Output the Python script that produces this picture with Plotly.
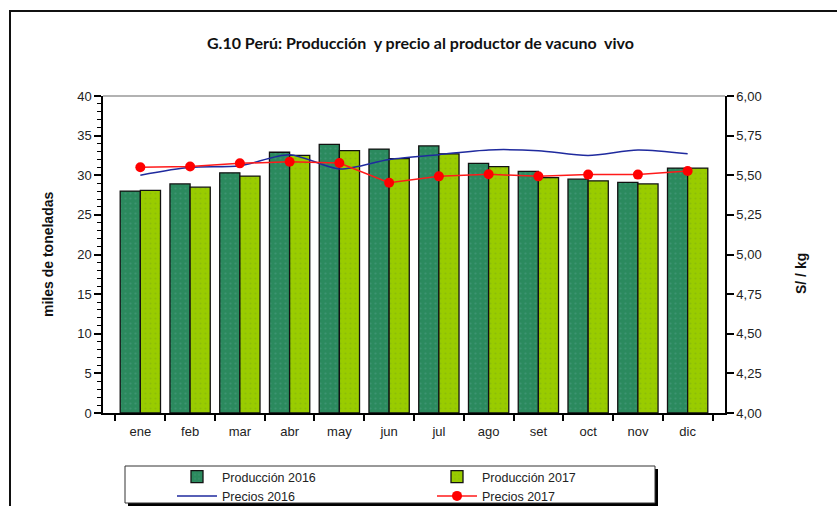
import plotly.graph_objects as go

meses = ["ene", "feb", "mar", "abr", "may", "jun", "jul", "ago", "set", "oct", "nov", "dic"]
prod_2016 = [28.0, 28.9, 30.3, 32.9, 33.9, 33.3, 33.7, 31.5, 30.5, 29.5, 29.1, 30.9]
prod_2017 = [28.1, 28.5, 29.9, 32.5, 33.1, 32.1, 32.7, 31.1, 29.7, 29.3, 28.9, 30.9]
precio_2016 = [5.50, 5.55, 5.56, 5.63, 5.54, 5.60, 5.63, 5.66, 5.655, 5.625, 5.66, 5.635]
precio_2017 = [5.55, 5.555, 5.575, 5.585, 5.577, 5.453, 5.493, 5.506, 5.493, 5.504, 5.504, 5.527]

W, H = 837, 506
L, R, T, B = 103, 725, 96, 413

def px(x):
    return (x - L) / (R - L)

def py(y):
    return (B - y) / (B - T)

fig = go.Figure()
fig.add_trace(go.Bar(
    x=meses, y=prod_2016, name="Producción 2016",
    marker=dict(color="#2b8a5e", line=dict(color="#111111", width=1.3),
                pattern=dict(shape=".", fgcolor="#4f9e86", size=5, solidity=0.15)),
))
fig.add_trace(go.Bar(
    x=meses, y=prod_2017, name="Producción 2017",
    marker=dict(color="#99cc00", line=dict(color="#111111", width=1.3),
                pattern=dict(shape=".", fgcolor="#7fae10", size=5, solidity=0.15)),
))
fig.add_trace(go.Scatter(
    x=meses, y=precio_2016, name="Precios 2016", yaxis="y2", mode="lines",
    line=dict(color="#1f2a9e", width=1.5, shape="spline", smoothing=0.8),
))
fig.add_trace(go.Scatter(
    x=meses, y=precio_2017, name="Precios 2017", yaxis="y2", mode="lines+markers",
    line=dict(color="#ff1a1a", width=1.5),
    marker=dict(color="#ff0000", size=10),
))

axis_font = dict(family="Liberation Sans, Arial, sans-serif", size=13, color="#222222")

fig.update_layout(
    width=W, height=H,
    margin=dict(l=L, r=W - R, t=T, b=H - B, autoexpand=False),
    paper_bgcolor="white", plot_bgcolor="white",
    separators=",.",
    barmode="group", bargap=0.19, bargroupgap=0.0,
    showlegend=True,
    legend=dict(
        orientation="h", x=px(172), y=py(462), xanchor="left", yanchor="top",
        bgcolor="rgba(0,0,0,0)", borderwidth=0, entrywidth=205, entrywidthmode="pixels",
        font=dict(family="Liberation Sans, Arial, sans-serif", size=12.5, color="#222222"),
        itemwidth=40, traceorder="normal", tracegroupgap=0,
    ),
    xaxis=dict(
        showgrid=False, showline=True, linecolor="black", linewidth=1.5,
        ticks="outside", tickson="boundaries", ticklen=6, tickcolor="black", tickwidth=1.5,
        ticklabelstandoff=6, tickfont=axis_font, zeroline=False,
    ),
    yaxis=dict(
        range=[0, 40], dtick=5, showgrid=False, showline=True, linecolor="black", linewidth=1.5,
        ticks="outside", ticklen=7, tickcolor="black", tickwidth=1.5, tickfont=axis_font,
        minor=dict(dtick=1, ticks="outside", ticklen=4, tickcolor="black", tickwidth=1),
        zeroline=False,
    ),
    yaxis2=dict(
        range=[4, 6], dtick=0.25, tickformat=".2f", overlaying="y", side="right",
        showgrid=False, showline=True, linecolor="black", linewidth=1.5,
        ticks="outside", ticklen=7, tickcolor="black", tickwidth=1.5, tickfont=axis_font,
        zeroline=False,
    ),
    annotations=[
        dict(text="<b>G.10 Perú: Producción  y precio al productor de vacuno  vivo</b>",
             x=px(420), y=py(43), xref="paper", yref="paper", showarrow=False,
             xanchor="center", yanchor="middle",
             font=dict(family="Lato, Noto Sans, sans-serif", size=16, color="#111111")),
        dict(text="<b>miles de toneladas</b>", textangle=-90,
             x=px(48), y=py(255), xref="paper", yref="paper", showarrow=False,
             xanchor="center", yanchor="middle",
             font=dict(family="Liberation Sans, Arial, sans-serif", size=14, color="#111111")),
        dict(text="<b>S/ / kg</b>", textangle=-90,
             x=px(801), y=py(273), xref="paper", yref="paper", showarrow=False,
             xanchor="center", yanchor="middle",
             font=dict(family="Liberation Sans, Arial, sans-serif", size=14, color="#111111")),
    ],
    shapes=[
        # outer chart border
        dict(type="rect", xref="paper", yref="paper", x0=px(10), x1=px(860), y0=py(530), y1=py(11),
             line=dict(color="#111111", width=2), layer="below"),
        # top border of plot area
        dict(type="line", xref="paper", yref="paper", x0=0, x1=1, y0=1, y1=1,
             line=dict(color="#999999", width=1.5)),
        # legend shadow and box
        dict(type="rect", xref="paper", yref="paper", x0=px(128), x1=px(658), y0=py(506), y1=py(469),
             fillcolor="black", line=dict(width=0), layer="above"),
        dict(type="rect", xref="paper", yref="paper", x0=px(125), x1=px(655), y0=py(503), y1=py(466),
             fillcolor="white", line=dict(color="#333333", width=1), layer="above"),
    ],
)

fig.write_html("out.html", config={"displayModeBar": False},
               post_script="document.body.style.margin='0px';document.body.style.overflow='hidden';")
